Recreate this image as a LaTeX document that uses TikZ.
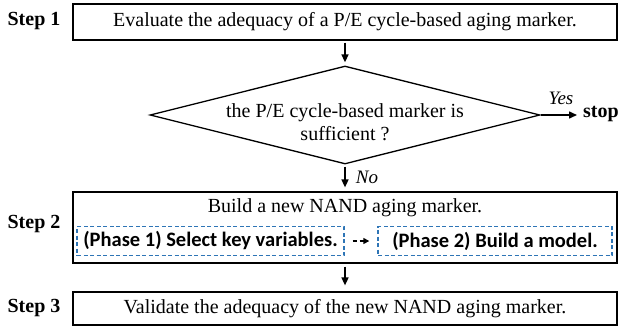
\documentclass[tikz,border=0pt]{standalone}
\usepackage{fontspec}
\setmainfont{Liberation Serif}
\newfontfamily\phasefont{Carlito}
\usetikzlibrary{shapes.geometric,arrows.meta}
\definecolor{phaseblue}{RGB}{46,117,182}

\begin{document}
\begin{tikzpicture}[x=1pt,y=-1pt,
  txt/.style={font=\fontsize{20}{23}\selectfont},
  steplabel/.style={font=\fontsize{20}{23}\selectfont\bfseries, inner sep=0pt},
  stepbox/.style={draw, line width=1.2pt, minimum width=544pt, inner sep=0pt,
    font=\fontsize{20}{23}\selectfont},
  phasebox/.style={draw=phaseblue, dash pattern=on 4pt off 2.5pt, line width=1.4pt,
    minimum height=29pt, inner sep=0pt, font=\phasefont\bfseries\fontsize{20.5}{23}\selectfont},
  flow/.style={-{Triangle[length=8pt,width=7pt]}, line width=1.5pt},
  dflow/.style={-{Triangle[length=6pt,width=6pt]}, line width=1.4pt, dash pattern=on 4pt off 3pt},
  tag/.style={font=\fontsize{19}{23}\selectfont\itshape, inner sep=0pt}]
\useasboundingbox (0,0) rectangle (620,329);

% step 1
\node[steplabel] (l1) at (34,21) {Step 1};
\node[stepbox, minimum height=36pt] (s1) at (345,22)
  {Evaluate the adequacy of a P/E cycle-based aging marker.};

% decision
\node[draw, diamond, line width=1.3pt, minimum width=390pt, minimum height=98pt,
  inner sep=0pt] (dec) at (345,115) {};
\node[txt, align=center, inner sep=0pt] (dect) at (345,122)
  {the P/E cycle-based marker is\\sufficient ?};
\node[steplabel, anchor=west] (stop) at (583,114) {stop};
\coordinate (stopin) at (dec.east -| stop.west);
\node[tag] (yes) at (561,98) {Yes};
\node[tag] (no) at (367,177) {No};

% step 2
\node[steplabel] (l2) at (34,224) {Step 2};
\node[stepbox, minimum height=71pt] (s2) at (345,227.5) {};
\node[txt, inner sep=0pt] (s2t) at (345,208) {Build a new NAND aging marker.};
\node[phasebox, minimum width=267pt] (p1) at (210.5,241) {(Phase 1) Select key variables.};
\node[phasebox, minimum width=234pt] (p2) at (495,241) {(Phase 2) Build a model.};

% step 3
\node[steplabel] (l3) at (34,308) {Step 3};
\node[stepbox, minimum height=33pt] (s3) at (345,308.5)
  {Validate the adequacy of the new NAND aging marker.};

% connectors
\draw[flow, shorten <=2pt, shorten >=3pt] (s1) -- (dec);
\draw[flow, shorten <=2pt, shorten >=4pt] (dec) -- (s2);
\draw[flow, shorten >=6pt] (dec.east) -- (stopin);
\draw[flow, shorten <=3pt, shorten >=6pt] (s2) -- (s3);
\draw[dflow, shorten <=8pt, shorten >=8pt] (p1) -- (p2);
\end{tikzpicture}
\end{document}
